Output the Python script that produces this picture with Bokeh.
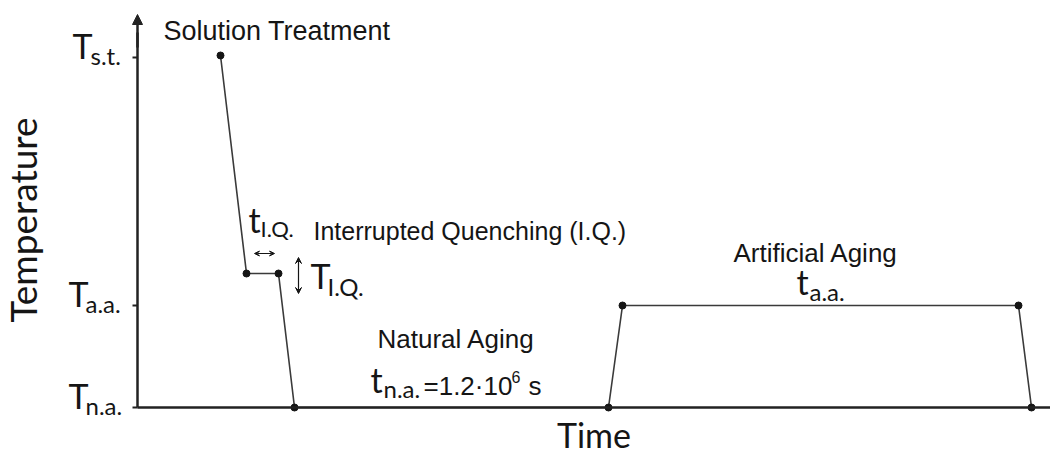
from bokeh.plotting import figure
from bokeh.models import Label, Arrow, NormalHead, VeeHead, Range1d, FixedTicker
from bokeh.embed import file_html
from bokeh.resources import INLINE

# ---- data (schematic heat-treatment profile) ----
profile_time = [83, 109, 141, 157, 471, 485, 881, 894]
profile_temp = [352, 134, 134, 0, 0, 102, 102, 0]

tick_values = [0, 102, 350]
tick_main = ["T", "T", "T"]
tick_sub = ["n.a.", "a.a.", "s.t."]

x_label = "Time"
y_label = "Temperature"

INK = "#151515"
LINE = "#3a3a3a"
AXC = "#222222"
ARIAL = "Liberation Sans"
CAL = "Lato"

p = figure(width=1050, height=455, output_backend="svg", toolbar_location=None,
           x_range=Range1d(-137, 913), y_range=Range1d(-48, 407),
           min_border_left=0, min_border_right=0, min_border_top=0, min_border_bottom=0)
p.grid.visible = False
p.outline_line_color = None
p.background_fill_color = "white"

# x axis
xa = p.xaxis[0]
xa.ticker = FixedTicker(ticks=[])
xa.major_tick_line_color = None
xa.minor_tick_line_color = None
xa.axis_line_width = 2.5
xa.axis_line_color = AXC
xa.fixed_location = 0
xa.bounds = (0, 913)
xa.axis_label = x_label
xa.axis_label_text_font = CAL
xa.axis_label_text_font_size = "34px"
xa.axis_label_text_font_style = "normal"
xa.axis_label_text_color = INK
xa.axis_label_standoff = 6

# y axis
ya = p.yaxis[0]
ya.ticker = FixedTicker(ticks=tick_values)
ya.major_label_overrides = {v: "" for v in tick_values}
ya.fixed_location = 0
ya.bounds = (0, 375)
ya.major_tick_out = 5
ya.major_tick_in = 0
ya.major_tick_line_width = 2
ya.major_tick_line_color = AXC
ya.minor_tick_line_color = None
ya.axis_line_width = 2.5
ya.axis_line_color = AXC
ya.axis_label = y_label
ya.axis_label_text_font = CAL
ya.axis_label_text_font_size = "37px"
ya.axis_label_text_font_style = "normal"
ya.axis_label_text_color = INK
ya.axis_label_standoff = 88

# arrow head on y axis
p.add_layout(Arrow(end=NormalHead(size=10, fill_color=AXC, line_color=AXC),
                   x_start=0, y_start=360, x_end=0, y_end=393,
                   line_width=2.5, line_color=AXC))

# profile
p.line(profile_time, profile_temp, line_color=LINE, line_width=1.6)
p.scatter(profile_time, profile_temp, size=7, color=INK)

def lab(text, x, y, font, size):
    px = int(size.replace("px", ""))
    p.add_layout(Label(x=x, y=y + round(0.38 * px), text=text, text_font=font,
                       text_font_size=size, text_color=INK,
                       text_baseline="alphabetic", text_align="left"))

# tick labels
tick_x = [-69, -69, -65]
sub_x = [-52, -52, -47]
for v, m, s, tx, sx in zip(tick_values, tick_main, tick_sub, tick_x, sub_x):
    lab(m, tx, v - 1, CAL, "34px")
    lab(s, sx, v - 7, CAL, "24px")

# annotations
lab("Solution Treatment", 26, 367, ARIAL, "27px")
lab("Interrupted Quenching (I.Q.)", 176, 167, ARIAL, "25px")
lab("t", 111, 175, CAL, "34px")
lab("I.Q.", 123, 171, CAL, "22px")
lab("T", 173, 119, CAL, "34px")
lab("I.Q.", 190, 112, CAL, "24px")
lab("Natural Aging", 240, 59, ARIAL, "26px")
lab("t", 233, 15, CAL, "34px")
lab("n.a.", 246, 10, CAL, "24px")
lab("=1.2\u00b710", 286, 12, ARIAL, "26px")
lab("6", 374, 25, ARIAL, "16px")
lab("s", 391, 12, ARIAL, "26px")
lab("Artificial Aging", 596, 145, ARIAL, "26px")
lab("t", 659, 113, CAL, "34px")
lab("a.a.", 672, 107, CAL, "24px")

# small double arrows
p.add_layout(Arrow(start=VeeHead(size=5, line_color=INK, fill_color=INK),
                   end=VeeHead(size=5, line_color=INK, fill_color=INK),
                   x_start=117, y_start=154, x_end=137, y_end=154,
                   line_width=1.2, line_color=INK))
p.add_layout(Arrow(start=VeeHead(size=6, line_color=INK, fill_color=INK),
                   end=VeeHead(size=6, line_color=INK, fill_color=INK),
                   x_start=161, y_start=114, x_end=161, y_end=150,
                   line_width=1.2, line_color=INK))

open("out.html", "w").write(file_html(p, INLINE))
